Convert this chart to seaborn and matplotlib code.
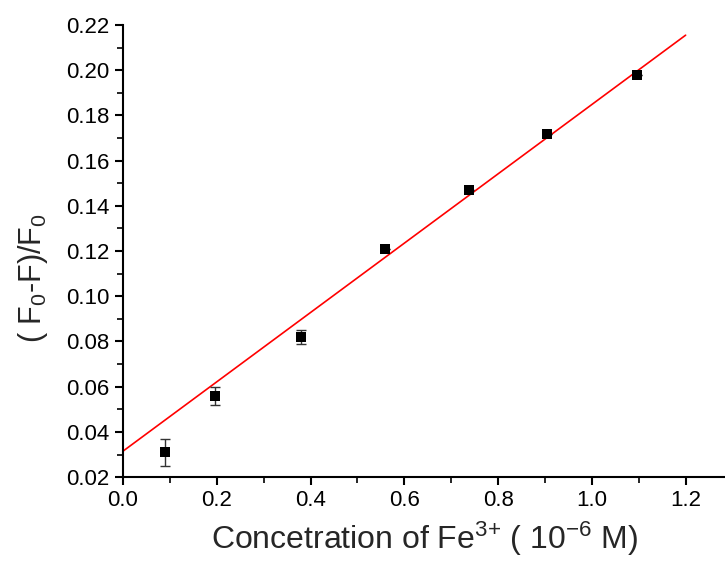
import numpy as np
import pandas as pd
import matplotlib
matplotlib.use("Agg")
import matplotlib.pyplot as plt
import seaborn as sns
from matplotlib.ticker import MultipleLocator

# data
conc = [0.09, 0.196, 0.38, 0.559, 0.738, 0.905, 1.097]
quench = [0.031, 0.056, 0.082, 0.121, 0.147, 0.172, 0.198]
err = [0.006, 0.004, 0.003, 0.0, 0.0, 0.0, 0.0]
fit_x = [0.0, 1.2]
fit_y = [0.0315, 0.2155]

sns.set_theme(style="ticks")
plt.rcParams['font.family'] = ['Liberation Sans', 'DejaVu Sans']
plt.rcParams['mathtext.fontset'] = 'custom'
plt.rcParams['mathtext.rm'] = 'Liberation Sans'
plt.rcParams['mathtext.it'] = 'Liberation Sans'

df = pd.DataFrame({'x': conc, 'y': quench, 'e': err})
df_fit = pd.DataFrame({'x': fit_x, 'y': fit_y})

fig = plt.figure(figsize=(7.25, 5.62), dpi=100)
ax = fig.add_axes([0.1697, 0.151, 0.8303, 0.8045])

sns.lineplot(data=df_fit, x='x', y='y', color='red', linewidth=1.2, ax=ax, zorder=2)
ax.errorbar(df['x'], df['y'], yerr=df['e'], fmt='none', ecolor='#333333',
            elinewidth=1.0, capsize=3.5, capthick=1.0, zorder=3)
sns.scatterplot(data=df, x='x', y='y', marker='s', color='black', s=60,
                edgecolor='black', linewidth=0, ax=ax, zorder=4)

ax.set_xlim(0, 1.284)
ax.set_ylim(0.02, 0.22)
ax.xaxis.set_major_locator(MultipleLocator(0.2))
ax.xaxis.set_minor_locator(MultipleLocator(0.1))
ax.yaxis.set_major_locator(MultipleLocator(0.02))
ax.yaxis.set_minor_locator(MultipleLocator(0.01))
ax.xaxis.set_major_formatter(matplotlib.ticker.FormatStrFormatter('%.1f'))
ax.yaxis.set_major_formatter(matplotlib.ticker.FormatStrFormatter('%.2f'))

for s in ['top', 'right']:
    ax.spines[s].set_visible(False)
for s in ['left', 'bottom']:
    ax.spines[s].set_linewidth(1.5)
    ax.spines[s].set_color('black')

ax.tick_params(which='major', direction='out', length=6, width=1.5,
               labelsize=16, colors='black')
ax.tick_params(which='minor', direction='out', length=4, width=1.2, colors='black')

ax.set_xlabel('Concetration of Fe$^{3{+}}$ ( 10$^{-6}$ M)', fontsize=23, labelpad=6)
ax.set_ylabel('( F$_0$-F)/F$_0$', fontsize=22)
ax.yaxis.set_label_coords(-0.121, 0.44)

fig.savefig('out.png', dpi=100)
